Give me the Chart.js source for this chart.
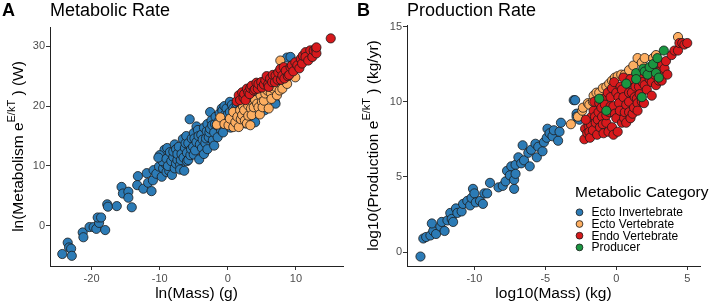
<!DOCTYPE html>
<html>
<head>
<meta charset="utf-8">
<script src="https://cdn.jsdelivr.net/npm/chart.js@4.4.1/dist/chart.umd.min.js"></script>
<style>
body{margin:0;background:#fff;width:709px;height:305px;overflow:hidden;position:relative}
.panel{position:absolute;top:0;height:305px}
#wrapA{left:0;width:355px}
#wrapB{left:355px;width:354px}
</style>
</head>
<body>
<div class="panel" id="wrapA"><canvas id="chartA" width="355" height="305"></canvas></div>
<div class="panel" id="wrapB"><canvas id="chartB" width="354" height="305"></canvas></div>
<script>

const categories = ["Ecto Invertebrate","Ecto Vertebrate","Endo Vertebrate","Producer"];

const metabTicksX = [-20,-10,0,10];
const metabTicksY = [0,10,20,30];
const prodTicksX = [-10,-5,0,5];
const prodTicksY = [0,5,10,15];

// panel A: ln(mass) vs ln(metabolism)
const metabEctoInvert = [
[-24.3,-4.7],[-23.5,-2.8],[-23.3,-3.6],[-23.0,-3.8],[-22.9,-5.0],[-21.3,-1.1],[-21.2,-1.9],
[-20.3,-0.2],[-19.7,-0.2],[-19.3,-0.5],[-18.9,0.5],[-19.1,1.4],[-18.6,1.4],[-18.0,-0.7],
[-17.7,3.6],[-17.6,3.2],[-16.3,3.3],[-15.6,6.5],[-15.4,5.4],[-14.6,5.7],[-14.6,4.7],[-14.1,3.1],
[-13.2,8.3],[-13.3,6.8],[-12.4,6.2],[-11.9,8.8],[-11.7,7.2],[-11.2,5.8],[-11.0,7.6],[-10.9,9.3],
[-10.5,8.7],[-10.1,9.9],[-9.7,8.2],[-9.5,9.6],[-9.2,10.4],[-9.0,9.0],[-9.3,12.7],[-8.9,13.0],
[-10.0,11.8],[-9.6,10.8],[-10.2,11.4],[-8.6,9.2],[-9.0,11.2],[-8.8,10.0],[-8.5,12.3],[-8.3,10.8],
[-8.2,8.5],[-8.0,11.5],[-8.0,12.4],[-7.8,9.6],[-7.8,13.6],[-7.6,12.8],[-7.6,10.4],[-7.4,11.0],
[-7.4,12.0],[-7.2,13.2],[-7.0,10.2],[-7.0,9.4],[-6.9,11.0],[-6.8,12.0],[-6.6,14.5],[-6.5,11.4],
[-6.4,9.2],[-6.3,13.0],[-6.2,13.8],[-6.1,15.0],[-6.0,12.2],[-6.0,10.8],[-5.8,13.8],[-5.8,11.0],
[-5.6,17.8],[-5.5,11.8],[-5.4,12.8],[-5.3,14.6],[-5.1,13.2],[-5.0,15.5],[-5.0,11.9],[-4.9,14.6],
[-4.8,12.6],[-4.6,14.0],[-4.6,16.6],[-4.4,16.0],[-4.3,15.0],[-4.2,11.1],[-4.1,13.6],[-3.9,15.2],
[-3.8,13.0],[-3.7,14.4],[-3.5,16.4],[-3.5,12.0],[-3.3,13.8],[-3.2,14.6],[-3.1,15.8],[-3.0,17.0],
[-3.0,12.8],[-2.8,14.8],[-2.7,15.6],[-2.6,16.2],[-2.6,19.0],[-2.4,17.6],[-2.3,16.8],[-2.2,14.3],
[-2.0,15.6],[-2.0,13.4],[-1.9,17.0],[-1.8,18.2],[-1.6,16.8],[-1.5,14.8],[-1.4,17.4],[-1.2,18.8],
[-1.1,17.0],[-1.0,16.0],[-0.9,19.6],[-0.8,19.2],[-0.7,15.6],[-0.6,17.8],[-0.5,20.0],[-0.4,18.6],
[-0.2,19.6],[0.0,17.4],[0.0,18.6],[0.3,19.0],[0.3,20.7],[0.4,16.4],[0.6,20.2],[0.8,19.6],
[0.9,18.4],[1.2,19.6],[1.3,20.4],[1.6,19.3],[2.0,20.4],[2.6,17.1],[3.0,19.0],[3.0,20.0],
[3.5,21.2],[4.0,17.3],[4.6,20.8],[5.4,19.3],[6.0,21.6],[6.9,20.7],[7.0,20.4],[7.5,23.0],
[8.7,28.1],[9.2,28.2]
];
const metabEctoVert = [
[-1.6,16.9],[-1.1,18.1],[-0.5,17.0],[0.1,16.8],[0.3,17.9],[0.8,19.0],[0.8,16.5],[1.1,17.3],
[1.4,18.2],[1.6,16.5],[1.8,19.3],[1.9,17.8],[2.1,18.5],[2.2,20.0],[2.4,19.3],[2.5,17.6],
[2.8,20.9],[2.8,17.1],[3.0,18.4],[3.0,20.1],[3.3,16.8],[3.4,19.6],[3.5,18.5],[3.8,19.8],
[4.0,21.0],[4.3,20.4],[4.5,19.8],[4.7,18.6],[4.8,21.8],[5.0,20.7],[5.1,19.8],[5.3,20.9],
[5.5,22.1],[5.8,22.6],[6.0,19.6],[6.3,22.2],[6.4,21.2],[6.7,22.9],[7.0,23.2],[7.2,21.8],
[7.6,22.6],[7.7,27.6],[8.0,22.9],[8.5,24.2],[8.7,23.7],[9.2,25.4],[9.9,24.8]
];
const metabEndoVert = [
[1.3,20.8],[1.6,21.8],[1.8,21.0],[2.1,22.3],[2.3,21.4],[2.4,22.0],[2.6,21.0],[2.8,22.9],
[3.0,22.3],[3.2,22.0],[3.3,23.0],[3.5,23.4],[3.8,22.6],[4.0,22.8],[4.2,23.9],[4.4,22.9],
[4.5,23.7],[4.9,24.0],[5.0,23.1],[5.3,23.6],[5.5,24.3],[5.7,25.0],[5.9,23.6],[6.0,23.2],
[6.2,24.6],[6.5,24.0],[6.6,25.2],[6.9,24.0],[7.0,25.1],[7.3,24.4],[7.4,25.6],[7.7,26.2],
[7.8,24.4],[8.0,25.1],[8.2,26.5],[8.3,24.6],[8.5,25.9],[8.8,25.0],[9.0,25.2],[9.2,26.5],
[9.4,26.8],[9.6,25.8],[9.9,27.3],[10.2,26.8],[10.5,26.3],[10.7,27.9],[10.9,27.1],[11.0,28.4],
[11.4,29.0],[11.4,28.2],[11.8,27.6],[12.1,29.3],[12.4,28.2],[12.6,29.3],[12.9,29.6],[13.0,28.8],
[13.0,29.8],[15.1,31.3]
];

// panel B: log10(mass) vs log10(production)
const prodEctoInvert = [
[-13.8,-0.3],[-13.6,0.9],[-13.4,1.0],[-13.1,1.1],[-12.9,1.4],[-13.0,1.9],[-12.7,1.2],[-12.4,1.7],
[-12.3,2.0],[-12.1,1.4],[-11.9,2.1],[-11.7,2.6],[-11.6,2.2],[-11.3,2.9],[-11.5,2.0],[-11.2,2.6],
[-10.9,2.7],[-10.8,3.2],[-10.5,3.4],[-10.3,3.1],[-10.2,3.6],[-10.1,4.2],[-10.0,3.9],[-9.9,3.3],
[-9.6,3.4],[-9.4,3.2],[-9.3,3.9],[-9.1,3.9],[-8.9,4.6],[-8.3,4.3],[-8.0,4.4],[-7.8,4.7],
[-7.7,5.4],[-7.4,5.7],[-7.5,5.1],[-7.2,4.2],[-7.2,4.8],[-7.1,5.8],[-7.1,5.2],[-6.9,6.3],
[-6.7,5.9],[-6.6,7.1],[-6.5,6.1],[-6.2,6.6],[-6.1,5.7],[-6.0,6.8],[-5.7,7.2],[-5.6,6.3],
[-5.5,7.0],[-5.2,6.7],[-5.1,7.3],[-4.9,7.6],[-4.85,8.2],[-4.7,7.9],[-4.5,7.7],[-4.4,8.1],
[-4.1,7.4],[-4.0,8.0],[-3.9,8.6],[-3.0,10.1],[-2.9,10.1],[-2.8,9.2],[-2.8,9.0],[-2.6,8.8]
];
const prodEctoVert = [
[-3.2,8.5],[-2.7,9.0],[-2.4,9.4],[-2.35,9.6],[-2.0,9.9],[-1.9,9.8],[-1.65,10.0],[-1.6,10.4],
[-1.4,10.6],[-1.2,10.6],[-0.95,10.9],[-0.7,11.0],[-0.5,11.2],[-0.3,11.4],[-0.1,11.6],[0.1,11.7],
[0.35,11.8],[0.6,11.8],[0.9,12.1],[1.2,12.4],[1.5,12.9],[1.8,12.6],[2.0,12.9],[2.6,12.9],
[2.8,13.1],[4.35,14.3]
];
const prodEndoVert = [
[-2.25,7.5],[-2.2,8.2],[-2.05,7.9],[-1.95,8.4],[-1.9,8.0],[-1.85,7.6],[-1.8,8.5],[-1.75,9.0],
[-1.65,8.1],[-1.6,9.4],[-1.55,10.0],[-1.5,9.0],[-1.45,8.6],[-1.35,7.8],[-1.3,8.8],[-1.25,9.3],
[-1.2,9.9],[-1.15,8.3],[-2.15,8.8],[-1.05,9.6],[-1.0,9.0],[-0.95,8.5],[-0.9,7.9],[-0.9,10.2],
[-0.8,9.8],[-0.7,8.6],[-0.7,9.1],[-0.6,10.6],[-0.55,8.0],[-0.5,9.3],[-0.4,10.3],[-0.4,9.7],
[-0.3,8.3],[-0.3,10.9],[-0.2,9.7],[-0.2,7.8],[-0.15,11.3],[-0.1,9.2],[0.0,10.6],[0.0,8.9],
[0.1,8.0],[0.15,10.3],[0.2,9.9],[0.25,9.4],[0.3,11.0],[0.4,8.6],[0.4,10.8],[0.5,10.3],
[0.5,11.6],[0.55,8.9],[0.6,9.3],[0.7,8.6],[0.7,9.8],[0.8,11.2],[0.9,10.0],[0.9,10.6],
[0.9,9.3],[1.0,8.9],[1.0,11.5],[1.1,10.6],[1.15,9.2],[1.25,9.6],[1.3,10.3],[1.35,11.0],
[1.45,10.2],[1.5,9.9],[1.5,9.4],[1.6,11.0],[1.65,10.5],[1.7,11.7],[1.8,10.0],[1.85,11.3],
[1.95,9.9],[2.0,11.1],[2.15,10.8],[2.2,12.1],[2.35,11.5],[2.4,12.0],[2.5,10.4],[2.5,11.3],
[2.6,12.2],[2.7,11.8],[2.8,11.1],[3.0,12.0],[3.0,11.4],[3.2,11.4],[3.2,12.5],[3.4,12.2],
[3.5,12.7],[3.6,11.8],[3.9,13.1],[4.1,13.4],[4.35,13.4],[4.45,13.9],[4.65,13.9],[4.8,13.8],
[5.0,13.9]
];
const prodProducer = [
[-1.2,10.2],[-0.7,9.4],[0.7,11.2],[1.4,11.9],[1.4,11.5],[1.8,10.3],[1.9,12.2],[2.0,12.0],
[2.2,11.8],[2.35,12.3],[2.6,12.5],[2.8,11.9],[2.9,12.9],[3.0,11.6],[3.35,13.4]
];

const catColors = ["#2c7bb6","#fdae61","#d7191c","#1a9641"];
const FONT = "'Liberation Sans', Arial, Helvetica, sans-serif";

function toPoints(pairs){
    return pairs.map(p => ({x:p[0], y:p[1]}));
}

function scatterSet(i, pairs){
    return {
        label: categories[i],
        data: toPoints(pairs),
        backgroundColor: catColors[i],
        borderColor: "#1a1a1a",
        borderWidth: 0.8,
        pointRadius: 4.6,
        pointHoverRadius: 4.6,
        order: 4 - i
    };
}

function makeAxis(isX, min, max, tickVals, fit){
    return {
        type: "linear",
        position: isX ? "bottom" : "left",
        min: min,
        max: max,
        afterBuildTicks: s => { s.ticks = tickVals.map(v => ({value:v})); },
        afterFit: s => { if(isX){ s.height = fit; } else { s.width = fit; } },
        grid: {display:true, drawOnChartArea:false, drawTicks:true, tickLength:4, color:"#333", lineWidth:1},
        border: {display:true, color:"#222", width:1},
        ticks: {color:"#4d4d4d", font:{family:FONT, size:11}, padding: isX ? 2 : 1, maxRotation:0, autoSkip:false}
    };
}

function drawRotated(ctx, cx, cy, parts){
    ctx.save();
    ctx.translate(cx, cy);
    ctx.rotate(-Math.PI/2);
    let total = 0;
    parts.forEach(p => {
        ctx.font = p.size + "px " + FONT;
        p.w = ctx.measureText(p.text).width;
        total += p.w;
    });
    let x = -total/2;
    ctx.textAlign = "left";
    ctx.textBaseline = "alphabetic";
    ctx.fillStyle = "#000";
    parts.forEach(p => {
        ctx.font = p.size + "px " + FONT;
        ctx.fillText(p.text, x, -p.rise);
        x += p.w;
    });
    ctx.restore();
}

function panelText(cfg){
    return {
        id: "panelText",
        afterDraw(chart){
            const ctx = chart.ctx;
            const area = chart.chartArea;
            ctx.save();
            ctx.fillStyle = "#000";
            ctx.textBaseline = "alphabetic";
            ctx.textAlign = "left";
            ctx.font = "bold 18px " + FONT;
            ctx.fillText(cfg.letter, 2, 15.5);
            ctx.font = "18px " + FONT;
            ctx.fillText(cfg.title, cfg.titleX, 15.5);
            ctx.textAlign = "center";
            ctx.font = "15.5px " + FONT;
            ctx.fillText(cfg.xTitle, (area.left + area.right)/2, 298);
            ctx.restore();
            drawRotated(ctx, 23, (area.top + area.bottom)/2, cfg.yParts);

            if(cfg.legend){
                ctx.save();
                ctx.fillStyle = "#000";
                ctx.textAlign = "left";
                ctx.textBaseline = "alphabetic";
                ctx.font = "15.5px " + FONT;
                ctx.fillText("Metabolic Category", 220, 197);
                ctx.font = "12px " + FONT;
                ctx.textBaseline = "middle";
                chart.data.datasets.forEach((ds, i) => {
                    const y = 212.3 + i*11.7;
                    ctx.beginPath();
                    ctx.arc(224.5, y, 3.4, 0, Math.PI*2);
                    ctx.fillStyle = ds.backgroundColor;
                    ctx.fill();
                    ctx.lineWidth = 0.8;
                    ctx.strokeStyle = "#1a1a1a";
                    ctx.stroke();
                    ctx.fillStyle = "#000";
                    ctx.fillText(ds.label, 236.5, y + 0.5);
                });
                ctx.restore();
            }
        }
    };
}

function baseOptions(pad, xAxis, yAxis){
    return {
        responsive: false,
        animation: false,
        layout: {padding: pad},
        plugins: {legend:{display:false}, tooltip:{enabled:false}},
        scales: {x: xAxis, y: yAxis}
    };
}

new Chart(document.getElementById("chartA"), {
    type: "scatter",
    data: {
        datasets: [
            scatterSet(0, metabEctoInvert),
            scatterSet(1, metabEctoVert),
            scatterSet(2, metabEndoVert)
        ]
    },
    options: baseOptions(
        {left:0, right:12, top:27, bottom:0},
        makeAxis(true, -26.1, 16.9, metabTicksX, 39),
        makeAxis(false, -6.7, 33.2, metabTicksY, 50)
    ),
    plugins: [panelText({
        letter: "A",
        title: "Metabolic Rate",
        titleX: 50,
        xTitle: "ln(Mass) (g)",
        yParts: [
            {text:"ln(Metabolism e", size:15.5, rise:0},
            {text:"E/kT", size:11, rise:8},
            {text:" ) (W)", size:15.5, rise:0}
        ],
        legend: false
    })]
});

new Chart(document.getElementById("chartB"), {
    type: "scatter",
    data: {
        datasets: [
            scatterSet(0, prodEctoInvert),
            scatterSet(1, prodEctoVert),
            scatterSet(2, prodEndoVert),
            scatterSet(3, prodProducer)
        ]
    },
    options: baseOptions(
        {left:0, right:9, top:25, bottom:0},
        makeAxis(true, -14.75, 5.9, prodTicksX, 39),
        makeAxis(false, -0.93, 15.1, prodTicksY, 52)
    ),
    plugins: [panelText({
        letter: "B",
        title: "Production Rate",
        titleX: 52,
        xTitle: "log10(Mass) (kg)",
        yParts: [
            {text:"log10(Production e", size:15.5, rise:0},
            {text:"E/kT", size:11, rise:8},
            {text:" ) (kg/yr)", size:15.5, rise:0}
        ],
        legend: true
    })]
});
</script>
</body>
</html>
